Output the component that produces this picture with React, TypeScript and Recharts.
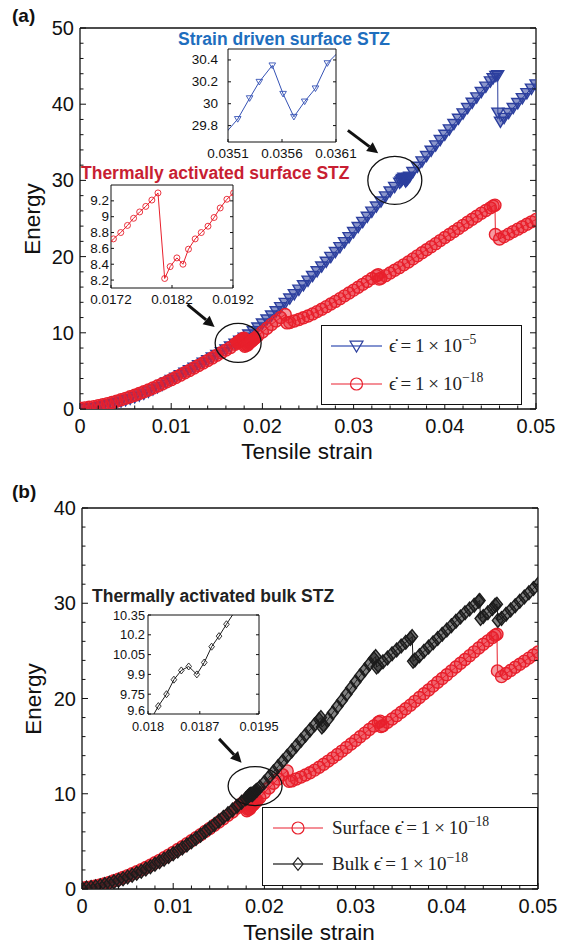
import React from 'react';
import { LineChart, Line, XAxis, YAxis, ReferenceDot, ReferenceLine } from 'recharts';

type Pt = [number, number];

// ---------- data (strain, energy) ----------
const strainDrivenSurface: Pt[] = [
  [0, 0.0], [0.0005, 0.03], [0.001, 0.08], [0.0015, 0.15], [0.002, 0.25], [0.0025, 0.38], [0.003, 0.52], [0.0035, 0.67],
  [0.004, 0.82], [0.0045, 0.98], [0.005, 1.15], [0.0055, 1.34], [0.006, 1.54], [0.0065, 1.77], [0.007, 2.02], [0.0075, 2.28],
  [0.008, 2.56], [0.0085, 2.86], [0.009, 3.17], [0.0095, 3.48], [0.01, 3.8], [0.0105, 4.12], [0.011, 4.45], [0.0115, 4.78],
  [0.012, 5.1], [0.0125, 5.42], [0.013, 5.75], [0.0135, 6.08], [0.014, 6.42], [0.0145, 6.76], [0.015, 7.1], [0.0155, 7.46],
  [0.016, 7.83], [0.0165, 8.2], [0.017, 8.58], [0.0175, 8.97], [0.018, 9.37], [0.0185, 9.78], [0.019, 10.2], [0.0195, 10.7],
  [0.02, 11.22], [0.0205, 11.75], [0.021, 12.28], [0.0215, 12.82], [0.022, 13.37], [0.0225, 13.93], [0.023, 14.5], [0.0235, 15.08],
  [0.024, 15.66], [0.0245, 16.25], [0.025, 16.85], [0.0255, 17.46], [0.026, 18.08], [0.0265, 18.7], [0.027, 19.33], [0.0275, 19.96],
  [0.028, 20.6], [0.0285, 21.25], [0.029, 21.9], [0.0295, 22.56], [0.03, 23.22], [0.0305, 23.89], [0.031, 24.56], [0.0315, 25.23],
  [0.032, 25.9], [0.0325, 26.57], [0.033, 27.24], [0.0335, 27.9], [0.034, 28.55], [0.0345, 29.15], [0.03505, 29.7],
  [0.03519, 29.86], [0.0353, 30.05], [0.03539, 30.2], [0.03551, 30.35], [0.03561, 30.09], [0.03571, 29.88], [0.03581, 30.02],
  [0.03591, 30.14], [0.03602, 30.37], [0.03615, 30.5], [0.0365, 31.1], [0.037, 31.8], [0.0375, 32.5], [0.038, 33.2],
  [0.0385, 33.9], [0.039, 34.6], [0.0395, 35.3], [0.04, 36.0], [0.0405, 36.7], [0.041, 37.4], [0.0415, 38.1], [0.042, 38.8],
  [0.0425, 39.5], [0.043, 40.2], [0.0435, 40.9], [0.044, 41.6], [0.0445, 42.3], [0.045, 43.0], [0.0453, 43.4], [0.0456, 43.7],
  [0.0458, 43.8], [0.04582, 38.9], [0.0461, 37.7], [0.0465, 38.2], [0.047, 38.85], [0.0475, 39.5], [0.048, 40.15],
  [0.0485, 40.8], [0.049, 41.45], [0.0495, 42.05], [0.05, 42.6],
];

const thermalSurface: Pt[] = [
  [0, 0.1], [0.0005, 0.15], [0.001, 0.22], [0.0015, 0.31], [0.002, 0.42], [0.0025, 0.55], [0.003, 0.7], [0.0035, 0.86],
  [0.004, 1.03], [0.0045, 1.21], [0.005, 1.4], [0.0055, 1.6], [0.006, 1.81], [0.0065, 2.03], [0.007, 2.26], [0.0075, 2.5],
  [0.008, 2.75], [0.0085, 3.01], [0.009, 3.28], [0.0095, 3.56], [0.01, 3.85], [0.0105, 4.14], [0.011, 4.44], [0.0115, 4.75],
  [0.012, 5.06], [0.0125, 5.38], [0.013, 5.7], [0.0135, 6.03], [0.014, 6.36], [0.0145, 6.7], [0.015, 7.04], [0.0155, 7.38],
  [0.016, 7.73], [0.0165, 8.08], [0.017, 8.5], [0.01724, 8.72], [0.01736, 8.8], [0.01747, 8.89], [0.01757, 8.98],
  [0.01767, 9.06], [0.01777, 9.13], [0.01787, 9.21], [0.01797, 9.3], [0.01808, 8.22], [0.01817, 8.37], [0.01828, 8.48],
  [0.01838, 8.4], [0.01847, 8.59], [0.01858, 8.72], [0.01868, 8.8], [0.01879, 8.88], [0.01889, 8.99], [0.01899, 9.11],
  [0.0191, 9.22], [0.01921, 9.3], [0.0195, 9.6], [0.02, 10.1], [0.0205, 10.6], [0.021, 11.1], [0.0215, 11.55], [0.022, 12.0],
  [0.0225, 12.4], [0.0227, 11.3], [0.023, 11.35], [0.0235, 11.55], [0.024, 11.75], [0.0245, 11.97], [0.025, 12.2],
  [0.0255, 12.48], [0.026, 12.78], [0.0265, 13.1], [0.027, 13.43], [0.0275, 13.77], [0.028, 14.12], [0.0285, 14.48],
  [0.029, 14.85], [0.0295, 15.22], [0.03, 15.6], [0.0305, 15.98], [0.031, 16.36], [0.0315, 16.74], [0.032, 17.12],
  [0.0325, 17.5], [0.0327, 17.62], [0.0328, 17.05], [0.033, 17.15], [0.0335, 17.5], [0.034, 17.85], [0.0345, 18.2],
  [0.035, 18.55], [0.0355, 18.92], [0.036, 19.3], [0.0365, 19.7], [0.037, 20.1], [0.0375, 20.5], [0.038, 20.9],
  [0.0385, 21.3], [0.039, 21.7], [0.0395, 22.1], [0.04, 22.5], [0.0405, 22.9], [0.041, 23.3], [0.0415, 23.7], [0.042, 24.1],
  [0.0425, 24.5], [0.043, 24.9], [0.0435, 25.3], [0.044, 25.7], [0.0445, 26.05], [0.045, 26.4], [0.0453, 26.65],
  [0.0455, 26.75], [0.04555, 22.9], [0.046, 22.3], [0.0465, 22.62], [0.047, 22.95], [0.0475, 23.28], [0.048, 23.6],
  [0.0485, 23.92], [0.049, 24.24], [0.0495, 24.56], [0.05, 24.88],
];

const thermalBulk: Pt[] = [
  [0, 0.05], [0.0005, 0.1], [0.001, 0.16], [0.0015, 0.24], [0.002, 0.34], [0.0025, 0.46], [0.003, 0.6], [0.0035, 0.75],
  [0.004, 0.91], [0.0045, 1.08], [0.005, 1.26], [0.0055, 1.45], [0.006, 1.65], [0.0065, 1.87], [0.007, 2.1], [0.0075, 2.34],
  [0.008, 2.59], [0.0085, 2.85], [0.009, 3.12], [0.0095, 3.4], [0.01, 3.69], [0.0105, 3.99], [0.011, 4.3], [0.0115, 4.62],
  [0.012, 4.95], [0.0125, 5.29], [0.013, 5.64], [0.0135, 6.0], [0.014, 6.37], [0.0145, 6.75], [0.015, 7.13], [0.0155, 7.52],
  [0.016, 7.91], [0.0165, 8.3], [0.017, 8.7], [0.0175, 9.1], [0.01795, 9.47], [0.01814, 9.66], [0.01825, 9.75],
  [0.01835, 9.86], [0.01845, 9.93], [0.01855, 9.96], [0.01866, 9.9], [0.01876, 9.99], [0.01886, 10.11], [0.01896, 10.19],
  [0.01906, 10.28], [0.0192, 10.4], [0.0195, 10.68], [0.02, 11.2], [0.0205, 11.75], [0.021, 12.3], [0.0215, 12.85],
  [0.022, 13.4], [0.0225, 13.95], [0.023, 14.5], [0.0235, 15.05], [0.024, 15.6], [0.0245, 16.15], [0.025, 16.7],
  [0.0255, 17.25], [0.026, 17.8], [0.0262, 18.0], [0.0263, 17.0], [0.0265, 17.2], [0.027, 17.85], [0.0275, 18.5],
  [0.028, 19.15], [0.0285, 19.8], [0.029, 20.45], [0.0295, 21.1], [0.03, 21.75], [0.0305, 22.4], [0.031, 23.0],
  [0.0315, 23.6], [0.032, 24.2], [0.0322, 24.4], [0.0323, 23.3], [0.0325, 23.45], [0.033, 23.85], [0.0335, 24.25],
  [0.034, 24.7], [0.0345, 25.1], [0.035, 25.5], [0.0355, 25.9], [0.036, 26.3], [0.0362, 26.5], [0.0363, 23.9],
  [0.0365, 24.05], [0.037, 24.5], [0.0375, 24.95], [0.038, 25.4], [0.0385, 25.85], [0.039, 26.3], [0.0395, 26.75],
  [0.04, 27.2], [0.0405, 27.65], [0.041, 28.1], [0.0415, 28.55], [0.042, 29.0], [0.0425, 29.4], [0.043, 29.8],
  [0.0435, 30.2], [0.0436, 30.3], [0.0437, 28.4], [0.044, 28.6], [0.0445, 29.0], [0.045, 29.45], [0.0453, 29.8],
  [0.0455, 29.9], [0.0456, 28.2], [0.046, 28.4], [0.0465, 28.85], [0.047, 29.3], [0.0475, 29.75], [0.048, 30.2],
  [0.0485, 30.65], [0.049, 31.1], [0.0495, 31.55], [0.05, 32.0],
];

// ---------- ticks ----------
const mainXTicks = [0, 0.01, 0.02, 0.03, 0.04, 0.05];
const mainXMinor = [0.002, 0.004, 0.006, 0.008, 0.012, 0.014, 0.016, 0.018, 0.022, 0.024, 0.026, 0.028, 0.032, 0.034, 0.036, 0.038, 0.042, 0.044, 0.046, 0.048];
const panelAYTicks = [0, 10, 20, 30, 40, 50];
const panelAYMinor = [2, 4, 6, 8, 12, 14, 16, 18, 22, 24, 26, 28, 32, 34, 36, 38, 42, 44, 46, 48];
const panelBYTicks = [0, 10, 20, 30, 40];
const panelBYMinor = [2, 4, 6, 8, 12, 14, 16, 18, 22, 24, 26, 28, 32, 34, 36, 38];

const insetA1XTicks = [0.0351, 0.0356, 0.0361];
const insetA1YTicks = [29.8, 30, 30.2, 30.4];
const insetA2XTicks = [0.0172, 0.0182, 0.0192];
const insetA2YTicks = [8.2, 8.4, 8.6, 8.8, 9, 9.2];
const insetBXTicks = [0.018, 0.0187, 0.0195];
const insetBYTicks = [9.6, 9.75, 9.9, 10.05, 10.2, 10.35];

// ---------- text ----------
const titleStrain = 'Strain driven surface STZ';
const titleThermalSurface = 'Thermally activated surface STZ';
const titleThermalBulk = 'Thermally activated bulk STZ';
const legendAPrefix = ['', ''];
const legendAExp = ['\u22125', '\u221218'];
const legendBPrefix = ['Surface ', 'Bulk '];
const legendBExp = ['\u221218', '\u221218'];
const EPSDOT = '\u03F5\u0307';

// ---------- styles ----------
const FONT = "'Liberation Sans', Arial, Helvetica, sans-serif";
const SERIF = "'Liberation Serif', 'DejaVu Serif', 'Times New Roman', serif";
const INK = '#111';
const BLUE = '#2c3f9e';
const RED = '#e8202c';
const BLACK = '#1c1c1c';

const toRows = (pts: Pt[]) => pts.map(([s, e]) => ({ s, e }));
const blueRows = toRows(strainDrivenSurface);
const redRows = toRows(thermalSurface);
const blackRows = toRows(thermalBulk);

type Kind = 'tri' | 'circ' | 'dia';

function markerEl(kind: Kind, cx: number, cy: number, s: number, color: string, sw: number, fillOp: number, key?: string) {
  const fill = fillOp > 0 ? color : 'none';
  if (kind === 'circ') return <circle key={key} cx={cx} cy={cy} r={s} fill={fill} fillOpacity={fillOp} stroke={color} strokeWidth={sw} />;
  const d = kind === 'tri'
    ? `M${cx - s},${cy - s * 0.75}L${cx + s},${cy - s * 0.75}L${cx},${cy + s * 0.95}Z`
    : `M${cx},${cy - s * 1.25}L${cx + s},${cy}L${cx},${cy + s * 1.25}L${cx - s},${cy}Z`;
  return <path key={key} d={d} fill={fill} fillOpacity={fillOp} stroke={color} strokeWidth={sw} />;
}

function makeDot(kind: Kind, color: string, size: number, sw: number, fillOp: number) {
  return (props: any) => {
    const { cx, cy, index } = props;
    const key = `dot-${index}`;
    if (cx == null || cy == null || Number.isNaN(cx) || Number.isNaN(cy)) return <g key={key} />;
    return markerEl(kind, cx, cy, size, color, sw, fillOp, key);
  };
}

type Orient = 'bottom' | 'top' | 'left' | 'right';

function makeTick(orient: Orient, majors: number[], majorLen: number, minorLen: number, font: number, labelOff: number, showLabel: boolean, firstLift = 0) {
  return (props: any) => {
    const { x, y, payload, index } = props;
    const v = payload?.value;
    const isMajor = majors.indexOf(v) >= 0;
    const len = isMajor ? majorLen : minorLen;
    let x2 = x;
    let y2 = y;
    if (orient === 'bottom') y2 = y - len;
    if (orient === 'top') y2 = y + len;
    if (orient === 'left') x2 = x + len;
    if (orient === 'right') x2 = x - len;
    let label: React.ReactNode = null;
    if (showLabel && isMajor) {
      if (orient === 'bottom') {
        label = <text x={x} y={y + labelOff} textAnchor="middle" dominantBaseline="central" fontSize={font} fontFamily={FONT} fill={INK}>{String(v)}</text>;
      } else {
        const lift = v === majors[0] ? firstLift : 0;
        label = <text x={x - labelOff} y={y - lift} textAnchor="end" dominantBaseline="central" fontSize={font} fontFamily={FONT} fill={INK}>{String(v)}</text>;
      }
    }
    return (
      <g key={`t-${orient}-${index}`}>
        <line x1={x} y1={y} x2={x2} y2={y2} stroke={INK} strokeWidth={1} />
        {label}
      </g>
    );
  };
}

function boxAxes(o: {
  xDomain: [number, number]; yDomain: [number, number];
  xTicks: number[]; yTicks: number[]; xMinor?: number[]; yMinor?: number[];
  font: number; major: number; minor: number; xLabelOff: number; yLabelOff: number; axisW: number; firstLift?: number;
}) {
  const al = { stroke: INK, strokeWidth: o.axisW };
  const xs = [...o.xTicks, ...(o.xMinor || [])];
  const ys = [...o.yTicks, ...(o.yMinor || [])];
  return [
    <XAxis key="xb" xAxisId="x" dataKey="s" type="number" orientation="bottom" height={1} domain={o.xDomain} allowDataOverflow
      ticks={xs} interval={0} tickSize={0} tickMargin={0} tickLine={false} axisLine={al}
      tick={makeTick('bottom', o.xTicks, o.major, o.minor, o.font, o.xLabelOff, true)} />,
    <XAxis key="xt" xAxisId="xt" type="number" orientation="top" height={1} domain={o.xDomain} allowDataOverflow
      ticks={xs} interval={0} tickSize={0} tickMargin={0} tickLine={false} axisLine={al}
      tick={makeTick('top', o.xTicks, o.major, o.minor, o.font, 0, false)} />,
    <YAxis key="yl" yAxisId="y" type="number" orientation="left" width={1} domain={o.yDomain} allowDataOverflow
      ticks={ys} interval={0} tickSize={0} tickMargin={0} tickLine={false} axisLine={al}
      tick={makeTick('left', o.yTicks, o.major, o.minor, o.font, o.yLabelOff, true, o.firstLift || 0)} />,
    <YAxis key="yr" yAxisId="yr" type="number" orientation="right" width={1} domain={o.yDomain} allowDataOverflow
      ticks={ys} interval={0} tickSize={0} tickMargin={0} tickLine={false} axisLine={al}
      tick={makeTick('right', o.yTicks, o.major, o.minor, o.font, 0, false)} />,
  ];
}

const ArrowShape = (props: any) => {
  const { x1, y1, x2, y2 } = props;
  if ([x1, y1, x2, y2].some((v) => v == null || Number.isNaN(v))) return <g />;
  const dx = x2 - x1;
  const dy = y2 - y1;
  const len = Math.sqrt(dx * dx + dy * dy) || 1;
  const ux = dx / len;
  const uy = dy / len;
  const hl = 11;
  const hw = 5.5;
  const bx = x2 - ux * hl;
  const by = y2 - uy * hl;
  return (
    <g>
      <line x1={x1} y1={y1} x2={bx} y2={by} stroke={INK} strokeWidth={3} />
      <polygon points={`${x2},${y2} ${bx - uy * hw},${by + ux * hw} ${bx + uy * hw},${by - ux * hw}`} fill={INK} />
    </g>
  );
};

const ellipseShape = (rx: number, ry: number) => (props: any) => {
  const { cx, cy } = props;
  if (cx == null || cy == null) return <g />;
  return <ellipse cx={cx} cy={cy} rx={rx} ry={ry} fill="none" stroke={INK} strokeWidth={1.3} />;
};

function Inset(p: {
  left: number; top: number; w: number; h: number;
  xDomain: [number, number]; yDomain: [number, number]; xTicks: number[]; yTicks: number[];
  rows: { s: number; e: number }[]; color: string; kind: Kind; size: number; xLabelOff: number; yLabelOff: number;
  font?: number; firstLift?: number;
}) {
  const pad = 50;
  return (
    <div style={{ position: 'absolute', left: p.left - pad, top: p.top - pad }}>
      <LineChart width={p.w + 2 * pad} height={p.h + 2 * pad} margin={{ top: pad - 1, right: pad - 1, bottom: pad - 1, left: pad - 1 }}>
        {boxAxes({
          xDomain: p.xDomain, yDomain: p.yDomain, xTicks: p.xTicks, yTicks: p.yTicks,
          font: p.font || 13.5, major: 3, minor: 2, xLabelOff: p.xLabelOff, yLabelOff: p.yLabelOff, axisW: 1, firstLift: p.firstLift,
        })}
        <Line xAxisId="x" yAxisId="y" data={p.rows} dataKey="e" type="linear" stroke={p.color} strokeWidth={1}
          dot={makeDot(p.kind, p.color, p.size, 0.9, 0)} activeDot={false} isAnimationActive={false} />
      </LineChart>
    </div>
  );
}

function Legend(p: {
  left: number; top: number; w: number; h: number; fontSize: number;
  items: { y: number; color: string; lineColor: string; kind: Kind; size: number; prefix: string; exp: string }[];
  lineX0: number; lineX1: number; textX: number;
}) {
  return (
    <div style={{ position: 'absolute', left: p.left, top: p.top, width: p.w, height: p.h, border: `1.3px solid ${INK}`, background: '#fff', boxSizing: 'border-box' }}>
      {p.items.map((it, i) => (
        <React.Fragment key={i}>
          <svg style={{ position: 'absolute', left: p.lineX0 - p.left - 1, top: it.y - p.top - 11 }} width={p.lineX1 - p.lineX0} height={22}>
            <line x1={0} y1={11} x2={p.lineX1 - p.lineX0} y2={11} stroke={it.lineColor} strokeWidth={1.4} />
            {markerEl(it.kind, (p.lineX1 - p.lineX0) / 2, 11, it.size, it.color, 1.2, 0)}
          </svg>
          <div style={{ position: 'absolute', left: p.textX - p.left - 1, top: it.y - p.top - 1, transform: 'translateY(-50%)', fontFamily: SERIF, fontSize: p.fontSize, color: '#222', whiteSpace: 'nowrap', lineHeight: 1 }}>
            {it.prefix}{EPSDOT}{'\u2009'}={'\u2009'}1{'\u2009'}{'\u00D7'}{'\u2009'}10
            <span style={{ fontSize: '0.72em', position: 'relative', top: '-0.6em' }}>{it.exp}</span>
          </div>
        </React.Fragment>
      ))}
    </div>
  );
}

const abs = (extra: React.CSSProperties): React.CSSProperties => ({ position: 'absolute', whiteSpace: 'nowrap', lineHeight: 1, ...extra });

export default function App() {
  return (
    <div style={{ position: 'absolute', left: 0, top: 0, width: 570, height: 947, background: '#fff', overflow: 'hidden', fontFamily: FONT }}>
      {/* ---------- Panel (a) ---------- */}
      <div style={{ position: 'absolute', left: 0, top: 0 }}>
        <LineChart width={570} height={475} margin={{ top: 27, right: 33, bottom: 65, left: 79 }}>
          {boxAxes({
            xDomain: [0, 0.05], yDomain: [0, 50], xTicks: mainXTicks, yTicks: panelAYTicks, xMinor: mainXMinor, yMinor: panelAYMinor,
            font: 20, major: 6, minor: 3.5, xLabelOff: 17, yLabelOff: 6, axisW: 1.3,
          })}
          <Line xAxisId="x" yAxisId="y" data={blueRows} dataKey="e" type="linear" stroke={BLUE} strokeWidth={1}
            dot={makeDot('tri', BLUE, 6, 1.4, 0.55)} activeDot={false} isAnimationActive={false} />
          <Line xAxisId="x" yAxisId="y" data={redRows} dataKey="e" type="linear" stroke={RED} strokeWidth={1}
            dot={makeDot('circ', RED, 6, 1.4, 0.45)} activeDot={false} isAnimationActive={false} />
          <ReferenceDot xAxisId="x" yAxisId="y" x={0.03452} y={30.0} r={26} shape={ellipseShape(27, 24)} />
          <ReferenceDot xAxisId="x" yAxisId="y" x={0.01734} y={8.67} r={22} shape={ellipseShape(23, 19.5)} />
          <ReferenceLine xAxisId="x" yAxisId="y" segment={[{ x: 0.02937, y: 36.57 }, { x: 0.0327, y: 33.57 }]} shape={ArrowShape} />
          <ReferenceLine xAxisId="x" yAxisId="y" segment={[{ x: 0.01179, y: 13.69 }, { x: 0.01476, y: 10.77 }]} shape={ArrowShape} />
        </LineChart>
      </div>

      <Inset left={228} top={49} w={108} h={93} xDomain={[0.0351, 0.0361]} yDomain={[29.65, 30.5]}
        xTicks={insetA1XTicks} yTicks={insetA1YTicks} rows={blueRows} color="#3552b5" kind="tri" size={3.3} xLabelOff={11} yLabelOff={10} />
      <Inset left={111} top={185} w={122} h={103} xDomain={[0.0172, 0.0192]} yDomain={[8.1, 9.4]}
        xTicks={insetA2XTicks} yTicks={insetA2YTicks} rows={redRows} color={RED} kind="circ" size={3} xLabelOff={11} yLabelOff={2} />

      <div style={abs({ left: 12, top: 6, fontSize: 19, fontWeight: 700, color: INK })}>(a)</div>
      <div style={abs({ left: 178, top: 40, transform: 'translateY(-50%)', fontSize: 17.5, fontWeight: 700, color: '#1e6ebe' })}>{titleStrain}</div>
      <div style={abs({ left: 81, top: 174, transform: 'translateY(-50%)', fontSize: 17.5, fontWeight: 700, color: '#c81e32' })}>{titleThermalSurface}</div>
      <div style={abs({ left: 33, top: 219, transform: 'translate(-50%,-50%) rotate(-90deg)', fontSize: 22.5, color: INK })}>Energy</div>
      <div style={abs({ left: 307, top: 452, transform: 'translate(-50%,-50%)', fontSize: 22.5, color: INK })}>Tensile strain</div>

      <Legend left={321} top={325} w={201} h={80} fontSize={19} lineX0={331} lineX1={382} textX={389}
        items={[
          { y: 345, color: BLUE, lineColor: '#5a6fc0', kind: 'tri', size: 6.5, prefix: legendAPrefix[0], exp: legendAExp[0] },
          { y: 383, color: RED, lineColor: '#f06a74', kind: 'circ', size: 6, prefix: legendAPrefix[1], exp: legendAExp[1] },
        ]} />

      {/* ---------- Panel (b) ---------- */}
      <div style={{ position: 'absolute', left: 0, top: 480 }}>
        <LineChart width={570} height={467} margin={{ top: 27, right: 31, bottom: 57, left: 81 }}>
          {boxAxes({
            xDomain: [0, 0.05], yDomain: [0, 40], xTicks: mainXTicks, yTicks: panelBYTicks, xMinor: mainXMinor, yMinor: panelBYMinor,
            font: 20, major: 6, minor: 3.5, xLabelOff: 17, yLabelOff: 6, axisW: 1.3,
          })}
          <Line xAxisId="x" yAxisId="y" data={redRows} dataKey="e" type="linear" stroke={RED} strokeWidth={1}
            dot={makeDot('circ', RED, 6, 1.4, 0.45)} activeDot={false} isAnimationActive={false} />
          <Line xAxisId="x" yAxisId="y" data={blackRows} dataKey="e" type="linear" stroke={BLACK} strokeWidth={1}
            dot={makeDot('dia', BLACK, 5.5, 1.4, 0.55)} activeDot={false} isAnimationActive={false} />
          <ReferenceDot xAxisId="x" yAxisId="y" x={0.01898} y={10.81} r={26} shape={ellipseShape(27, 19.5)} />
          <ReferenceLine xAxisId="x" yAxisId="y" segment={[{ x: 0.01503, y: 15.76 }, { x: 0.0175, y: 13.25 }]} shape={ArrowShape} />
        </LineChart>
      </div>

      <Inset left={148} top={615} w={111} h={99} xDomain={[0.018, 0.0195]} yDomain={[9.6, 10.35]}
        xTicks={insetBXTicks} yTicks={insetBYTicks} rows={blackRows} color={BLACK} kind="dia" size={2.8}
        xLabelOff={12.5} yLabelOff={3} font={12.8} firstLift={3.5} />

      <div style={abs({ left: 12, top: 482, fontSize: 19, fontWeight: 700, color: INK })}>(b)</div>
      <div style={abs({ left: 92, top: 597, transform: 'translateY(-50%)', fontSize: 17.5, fontWeight: 700, color: '#222' })}>{titleThermalBulk}</div>
      <div style={abs({ left: 34, top: 699, transform: 'translate(-50%,-50%) rotate(-90deg)', fontSize: 22.5, color: INK })}>Energy</div>
      <div style={abs({ left: 309, top: 933, transform: 'translate(-50%,-50%)', fontSize: 22.5, color: INK })}>Tensile strain</div>

      <Legend left={262} top={807} w={276} h={79} fontSize={19} lineX0={273} lineX1={323} textX={332}
        items={[
          { y: 827, color: RED, lineColor: '#f06a74', kind: 'circ', size: 6, prefix: legendBPrefix[0], exp: legendBExp[0] },
          { y: 863, color: BLACK, lineColor: '#444', kind: 'dia', size: 5, prefix: legendBPrefix[1], exp: legendBExp[1] },
        ]} />
    </div>
  );
}
